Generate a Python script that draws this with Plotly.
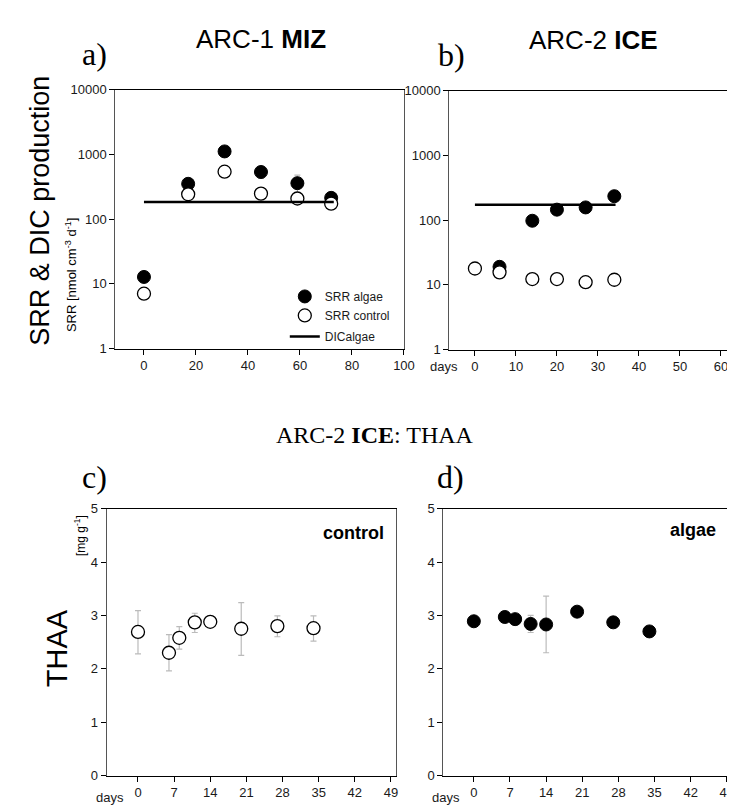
import plotly.graph_objects as go

# ---- data ----
# a) ARC-1 MIZ
a_days = [0, 17, 31, 45, 59, 72]
a_srr_algae = [12.8, 351, 1110, 534, 359, 213]
a_srr_algae_err = [0, 0, 0, 110, 120, 0]
a_srr_control = [7.05, 242, 540, 248, 208, 173]
a_dic_days = [0, 73]
a_dic_algae = [183, 183]

# b) ARC-2 ICE
b_days_algae = [6, 14, 20, 27, 34]
b_srr_algae = [19.0, 97.7, 145, 157, 234]
b_days_control = [0, 6, 14, 20, 27, 34]
b_srr_control = [17.9, 15.6, 12.3, 12.3, 11.0, 12.0]
b_dic_days = [0, 34.3]
b_dic_algae = [173, 173]

# c) THAA control
c_days = [0, 6, 8, 11, 14, 20, 27, 34]
c_thaa = [2.69, 2.30, 2.58, 2.87, 2.88, 2.75, 2.80, 2.76]
c_err_up = [0.40, 0.34, 0.21, 0.17, 0.0, 0.49, 0.19, 0.23]
c_err_dn = [0.41, 0.34, 0.21, 0.19, 0.0, 0.50, 0.20, 0.24]

# d) THAA algae
d_days = [0, 6, 8, 11, 14, 20, 27, 34]
d_thaa = [2.89, 2.97, 2.93, 2.84, 2.83, 3.07, 2.87, 2.70]
d_err = [0, 0, 0, 0.16, 0.53, 0, 0, 0]

log_ticks = [1, 10, 100, 1000, 10000]
log_labels = ['1', '10', '100', '1000', '10000']

W, H = 735, 805
SANS = 'Arial, Liberation Sans, sans-serif'
SERIF = 'Times New Roman, Liberation Serif, serif'


def px(x):
    return x / W


def py(y):
    return 1 - y / H


fig = go.Figure()

filled = dict(size=13, color='black', line=dict(color='black', width=1))
hollow = dict(size=13, color='white', line=dict(color='black', width=1.3))
errc = '#bbbbbb'

# panel a
fig.add_trace(go.Scatter(x=a_days, y=a_srr_algae, mode='markers', marker=filled, name='SRR algae',
                         error_y=dict(type='data', array=a_srr_algae_err, color=errc, thickness=1.2, width=3),
                         legendgroup='srr', xaxis='x', yaxis='y'))
fig.add_trace(go.Scatter(x=a_days, y=a_srr_control, mode='markers', marker=hollow, name='SRR control',
                         legendgroup='srr', xaxis='x', yaxis='y'))
fig.add_trace(go.Scatter(x=a_dic_days, y=a_dic_algae, mode='lines', line=dict(color='black', width=2.5),
                         name='DICalgae', legendgroup='dic', xaxis='x', yaxis='y'))

# panel b
fig.add_trace(go.Scatter(x=b_dic_days, y=b_dic_algae, mode='lines', line=dict(color='black', width=2.5),
                         showlegend=False, xaxis='x2', yaxis='y2'))
fig.add_trace(go.Scatter(x=b_days_algae, y=b_srr_algae, mode='markers', marker=filled,
                         showlegend=False, xaxis='x2', yaxis='y2'))
fig.add_trace(go.Scatter(x=b_days_control, y=b_srr_control, mode='markers', marker=hollow,
                         showlegend=False, xaxis='x2', yaxis='y2'))

# panel c
fig.add_trace(go.Scatter(x=c_days, y=c_thaa, mode='markers', marker=hollow, showlegend=False,
                         error_y=dict(type='data', array=c_err_up, arrayminus=c_err_dn, color=errc,
                                      thickness=1.2, width=3),
                         xaxis='x3', yaxis='y3'))

# panel d
fig.add_trace(go.Scatter(x=d_days, y=d_thaa, mode='markers', marker=filled, showlegend=False,
                         error_y=dict(type='data', array=d_err, color=errc, thickness=1.2, width=3),
                         xaxis='x4', yaxis='y4'))

ax = dict(showgrid=False, zeroline=False, showline=True, linecolor='black', linewidth=1,
          ticks='outside', ticklen=5, tickwidth=1, tickcolor='black',
          tickfont=dict(family=SANS, size=13, color='#1a1a1a'))
ay = dict(ax, linecolor='#555')

fig.update_layout(
    width=W, height=H,
    margin=dict(l=0, r=0, t=0, b=0),
    paper_bgcolor='white', plot_bgcolor='white',
    xaxis=dict(ax, domain=[px(109), px(402)], anchor='y', range=[-11, 100],
               tickvals=[0, 20, 40, 60, 80, 100], mirror=True),
    yaxis=dict(ay, domain=[py(340), py(76)], anchor='x', type='log', range=[0, 4],
               tickvals=log_ticks, ticktext=log_labels, mirror=True),
    xaxis2=dict(ax, domain=[px(448), 1], anchor='y2', range=[-6.25, 62.7],
                tickvals=[0, 10, 20, 30, 40, 50, 60], mirror=True),
    yaxis2=dict(ay, domain=[py(341), py(77)], anchor='x2', type='log', range=[0, 4],
                tickvals=log_ticks, ticktext=log_labels),
    xaxis3=dict(ax, domain=[px(100), px(394)], anchor='y3', range=[-6.1, 50],
                tickvals=[0, 7, 14, 21, 28, 35, 42, 49], mirror=True),
    yaxis3=dict(ay, domain=[py(775), py(503)], anchor='x3', range=[0, 5],
                tickvals=[0, 1, 2, 3, 4, 5], mirror=True),
    xaxis4=dict(ax, domain=[px(442), 1], anchor='y4', range=[-5.9, 50],
                tickvals=[0, 7, 14, 21, 28, 35, 42, 49], mirror=True),
    yaxis4=dict(ay, domain=[py(775), py(503)], anchor='x4', range=[0, 5],
                tickvals=[0, 1, 2, 3, 4, 5]),
    legend=dict(x=px(281), y=py(272), xanchor='left', yanchor='top',
                bgcolor='rgba(0,0,0,0)', font=dict(family=SANS, size=12, color='#1a1a1a'),
                tracegroupgap=2, itemsizing='trace'),
    showlegend=True,
)


def note(text, x, y, size, family=SANS, angle=0, color='black'):
    fig.add_annotation(text=text, x=px(x), y=py(y), xref='paper', yref='paper',
                       showarrow=False, textangle=angle, xanchor='center', yanchor='middle',
                       font=dict(family=family, size=size, color=color))


note('a)', 88, 40, 32, SERIF)
note('ARC-1 <b>MIZ</b>', 257, 24, 26)
note('b)', 450, 41, 32, SERIF)
note('ARC-2 <b>ICE</b>', 594, 25, 26)
note('SRR &amp; DIC production', 33, 200, 27, angle=-90)
note('SRR [nmol cm<sup>-3</sup> d<sup>-1</sup>]', 64, 265, 13, angle=-90)
note('days', 443, 358, 13, color='#1a1a1a')

note('ARC-2 <b>ICE</b>: THAA', 373, 428, 24, SERIF)
note('c)', 88, 471, 32, SERIF)
note('d)', 449, 471, 32, SERIF)
note('THAA', 50, 645, 29, angle=-90)
note('[mg g<sup>-1</sup>]', 73, 530, 12, angle=-90)
note('<b>control</b>', 351, 528, 18)
note('<b>algae</b>', 695, 525, 18)
note('days', 104, 797, 13, color='#1a1a1a')
note('days', 445, 797, 13, color='#1a1a1a')

fig.write_html("out.html")
